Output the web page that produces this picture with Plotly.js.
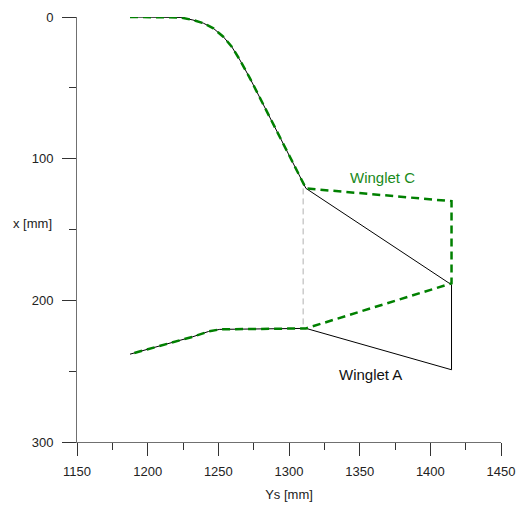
<!DOCTYPE html>
<html>
<head>
<meta charset="utf-8">
<script src="https://cdn.plot.ly/plotly-3.0.1.min.js"></script>
<style>
  html, body { margin: 0; padding: 0; background: #fff; }
  #chart { width: 524px; height: 505px; }
</style>
</head>
<body>
<div id="chart"></div>
<script>
// Leading-edge curve (upper) and trailing-edge curve (lower), Ys vs x in mm
const upperYs = [1187.5, 1215, 1223, 1232, 1239.5, 1246.5, 1253.5, 1259.5, 1265.3, 1272.4, 1289, 1309, 1312];
const upperX  = [0, 0, 0.3, 2.1, 4.4, 8, 13.9, 21, 30.4, 43.3, 75.5, 115, 121];
const lowerYs = [1187.5, 1232, 1243, 1251, 1280, 1312];
const lowerX  = [238, 225.7, 222, 220.5, 220.2, 219.8];

// Winglet A tip: leading and trailing points at the tip section
const wingletATipYs = [1415, 1415];
const wingletATipX  = [189, 249];

// Winglet C tip: leading and trailing points at the tip section
const wingletCTipYs = [1415, 1415];
const wingletCTipX  = [130, 188];

// Root section of the winglets (vertical reference line)
const rootYs = [1310, 1310];
const rootX  = [121, 219.8];

const rev = a => a.slice().reverse();

const wingletA = {
  x: upperYs.concat(wingletATipYs, rev(lowerYs)),
  y: upperX.concat(wingletATipX, rev(lowerX)),
  mode: 'lines',
  line: { color: '#000000', width: 1 },
  hoverinfo: 'skip'
};

const wingletC = {
  x: upperYs.concat(wingletCTipYs, rev(lowerYs)),
  y: upperX.concat(wingletCTipX, rev(lowerX)),
  mode: 'lines',
  line: { color: '#008000', width: 2.5, dash: '8px,5px' },
  hoverinfo: 'skip'
};

const rootLine = {
  x: rootYs,
  y: rootX,
  mode: 'lines',
  line: { color: '#b0b0b0', width: 1, dash: '6px,4px' },
  hoverinfo: 'skip'
};

const font = { family: 'Liberation Sans, Arial, sans-serif', size: 13, color: '#222' };

const layout = {
  width: 524,
  height: 505,
  margin: { l: 77, r: 23, t: 17, b: 63 },
  paper_bgcolor: '#ffffff',
  plot_bgcolor: '#ffffff',
  showlegend: false,
  font: font,
  xaxis: {
    range: [1150, 1450],
    tick0: 1150,
    dtick: 50,
    ticks: 'outside',
    ticklen: 13,
    tickwidth: 1,
    tickcolor: '#333',
    showline: true,
    linecolor: '#707070',
    linewidth: 1,
    showgrid: false,
    zeroline: false,
    ticklabelstandoff: 4,
    minor: { dtick: 25, tick0: 1150, ticks: 'outside', ticklen: 7, tickcolor: '#333', showgrid: false },
    title: { text: 'Ys [mm]', font: font, standoff: 12 }
  },
  yaxis: {
    range: [300, 0],
    tick0: 0,
    dtick: 100,
    ticks: 'outside',
    ticklen: 14,
    tickwidth: 1,
    tickcolor: '#333',
    showline: true,
    linecolor: '#707070',
    linewidth: 1,
    showgrid: false,
    zeroline: false,
    ticklabelstandoff: 6,
    minor: { dtick: 50, tick0: 0, ticks: 'outside', ticklen: 7, tickcolor: '#333', showgrid: false }
  },
  annotations: [
    { text: 'x [mm]', xref: 'paper', yref: 'paper', x: -0.104, y: 0.513,
      xanchor: 'center', yanchor: 'middle', showarrow: false, font: font },
    { text: 'Winglet C', xref: 'x', yref: 'y', x: 1366.5, y: 113,
      xanchor: 'center', yanchor: 'middle', showarrow: false,
      font: { family: 'Liberation Sans, Arial, sans-serif', size: 15, color: '#1a8a1a' } },
    { text: 'Winglet A', xref: 'x', yref: 'y', x: 1358, y: 252,
      xanchor: 'center', yanchor: 'middle', showarrow: false,
      font: { family: 'Liberation Sans, Arial, sans-serif', size: 15, color: '#111' } }
  ]
};

Plotly.newPlot('chart', [rootLine, wingletA, wingletC], layout, { staticPlot: true, displayModeBar: false });
</script>
</body>
</html>
